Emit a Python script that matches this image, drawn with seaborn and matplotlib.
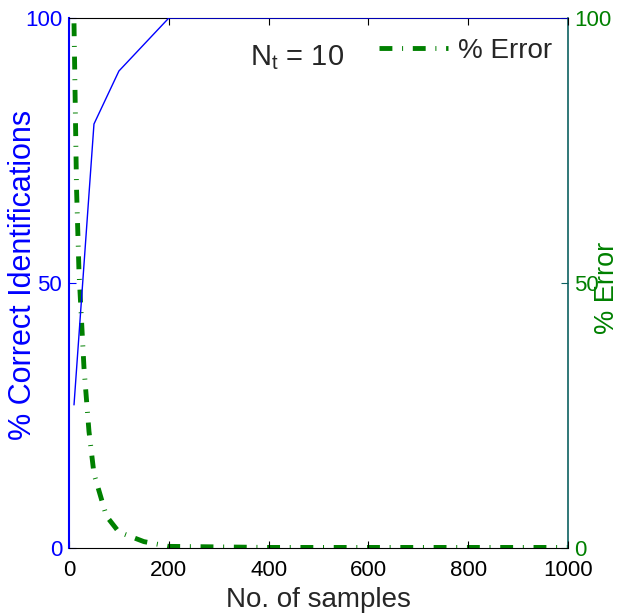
import matplotlib
matplotlib.use("Agg")
import matplotlib.pyplot as plt
import seaborn as sns
import pandas as pd

samples = [10, 50, 100, 200, 300, 400, 500, 600, 700, 800, 900, 1000]
correct = [27, 80, 90, 100, 100, 100, 100, 100, 100, 100, 100, 100]

err_samples = [10, 15, 20, 30, 40, 50, 75, 100, 150, 200, 300, 400, 500, 600, 700, 800, 900, 1000]
error = [99, 68, 52, 34, 22, 14, 6, 3, 1.2, 0.3, 0.2, 0.1, 0.1, 0.1, 0.1, 0.1, 0.1, 0.1]

x_ticks = [0, 200, 400, 600, 800, 1000]
y_ticks = [0, 50, 100]

sns.set_style("ticks")
plt.rcParams['font.family'] = ['Liberation Sans', 'DejaVu Sans']
plt.rcParams['mathtext.fontset'] = 'custom'
plt.rcParams['mathtext.rm'] = 'Liberation Sans'
plt.rcParams['mathtext.it'] = 'Liberation Sans'

blue = (0, 0, 1)
green = (0, 0.5, 0)
teal = (0.05, 0.38, 0.38)

fig = plt.figure(figsize=(6.19, 6.15), dpi=100)
ax = fig.add_axes([0.1115, 0.109, 0.8061, 0.8617])
ax2 = ax.twinx()

df1 = pd.DataFrame({"samples": samples, "correct": correct})
df2 = pd.DataFrame({"samples": err_samples, "error": error})

sns.lineplot(data=df1, x="samples", y="correct", ax=ax, color=blue, linewidth=1.0, zorder=5)
sns.lineplot(data=df2, x="samples", y="error", ax=ax2, color=green, linewidth=3.5,
             linestyle=(0, (2.65, 2.0, 0.2, 2.0)), label="% Error")

for a in (ax, ax2):
    a.set_xlim(0, 1000)
    a.set_ylim(0, 100)
    a.set_xticks(x_ticks)
    a.set_yticks(y_ticks)

ax.set_xlabel("No. of samples", fontsize=20)
ax.set_ylabel("% Correct Identifications", fontsize=22, color=blue)
ax2.set_ylabel("% Error", fontsize=19.5, color=green)
ax.xaxis.set_label_coords(0.5, -0.074)
ax.yaxis.set_label_coords(-0.062, 0.515)
ax2.yaxis.set_label_coords(1.052, 0.49)

ax.tick_params(axis='x', direction='in', top=True, labelsize=16, colors='black', length=5, pad=9)
ax.tick_params(axis='y', direction='in', labelsize=16, colors=blue, length=5, pad=5)
ax2.tick_params(axis='y', direction='in', labelsize=16, color=teal, labelcolor=green, length=5, pad=4.5)
ax2.tick_params(axis='x', top=False, bottom=False)

for s in ('top', 'bottom'):
    ax.spines[s].set_visible(True)
    ax.spines[s].set_color('black')
    ax2.spines[s].set_visible(False)
ax.spines['left'].set_color(blue)
ax.spines['left'].set_linewidth(1.5)
ax2.spines['right'].set_visible(True)
ax2.spines['right'].set_color(teal)
ax2.spines['right'].set_linewidth(1.2)
ax2.spines['left'].set_visible(False)
ax.spines['right'].set_visible(False)

ax.set_zorder(ax2.get_zorder() + 1)
ax.patch.set_visible(False)

leg = ax2.legend(loc='center right', bbox_to_anchor=(0.968, 0.938), frameon=False,
                 fontsize=20, handlelength=2.48, borderaxespad=0, borderpad=0,
                 handletextpad=0.36)

ax.text(363, 91.1, r"$\mathregular{N_{t}}$ = 10", fontsize=21, ha='left', va='baseline')

fig.savefig("out.png", dpi=100)
